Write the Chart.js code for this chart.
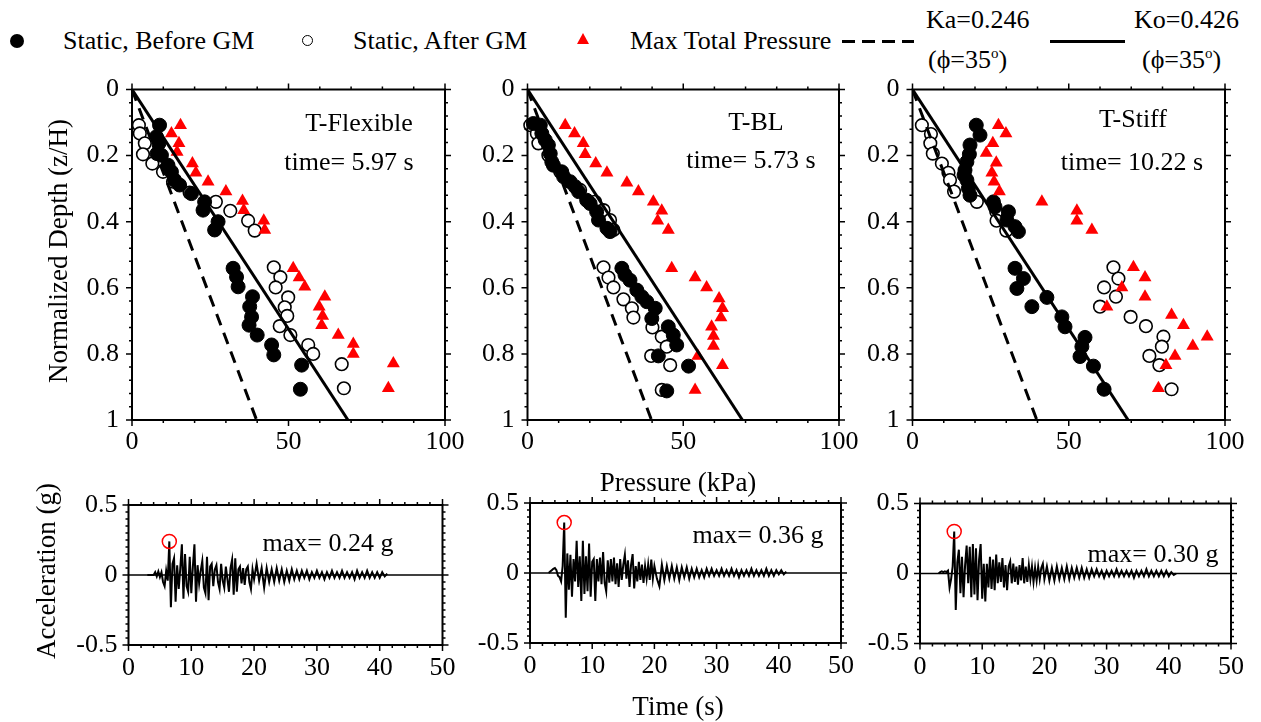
<!DOCTYPE html>
<html>
<head>
<meta charset="utf-8">
<script src="https://cdn.jsdelivr.net/npm/chart.js@4.4.1/dist/chart.umd.min.js"></script>
<style>
  body { margin: 0; width: 1261px; height: 722px; background: #fff; position: relative; overflow: hidden;
         font-family: "Liberation Serif", "Times New Roman", serif; color: #000; }
  canvas { position: absolute; left: 0; top: 0; }
  .t { position: absolute; white-space: nowrap; font-size: 26px; line-height: 1; }
  .c { transform: translate(-50%, -50%); }
  .l { transform: translateY(-50%); }
  .r { transform: translate(-50%, -50%) rotate(-90deg); }
  sup { font-size: 15px; vertical-align: 10px; line-height: 0; }
  .mk { position: absolute; }
</style>
</head>
<body>
<!-- legend -->
<div class="mk" style="left:10px;top:34px;width:14px;height:14px;border-radius:50%;background:#000"></div>
<div class="t l" style="left:63px;top:41px">Static, Before GM</div>
<div class="mk" style="left:302px;top:35px;width:9px;height:9px;border-radius:50%;border:1.6px solid #000"></div>
<div class="t l" style="left:353px;top:41px">Static, After GM</div>
<div class="mk" style="left:577px;top:33px;width:0;height:0;border-left:6.5px solid transparent;border-right:6.5px solid transparent;border-bottom:11px solid #f00"></div>
<div class="t l" style="left:630px;top:41px">Max Total Pressure</div>
<div class="mk" style="left:842px;top:40px;width:72px;height:3px;background:repeating-linear-gradient(90deg,#000 0 13px,transparent 13px 20px)"></div>
<div class="t l" style="left:926px;top:20px">Ka=0.246</div>
<div class="t l" style="left:928px;top:60px">(ϕ=35<sup>o</sup>)</div>
<div class="mk" style="left:1050px;top:40px;width:75px;height:3px;background:#000"></div>
<div class="t l" style="left:1134px;top:20px">Ko=0.426</div>
<div class="t l" style="left:1142px;top:60px">(ϕ=35<sup>o</sup>)</div>

<canvas id="p1" width="1261" height="722"></canvas>
<canvas id="p2" width="1261" height="722"></canvas>
<canvas id="p3" width="1261" height="722"></canvas>
<canvas id="a1" width="1261" height="722"></canvas>
<canvas id="a2" width="1261" height="722"></canvas>
<canvas id="a3" width="1261" height="722"></canvas>

<div class="t r" style="left:58px;top:251px;font-size:27px">Normalized Depth (z/H)</div>
<div class="t c" style="left:678px;top:482px;font-size:27px">Pressure (kPa)</div>
<div class="t r" style="left:46px;top:571px;font-size:27px">Acceleration (g)</div>
<div class="t c" style="left:678px;top:706px;font-size:27px">Time (s)</div>
<div id="notes"></div>

<script>
// panel names and captions
const panelNames = ["T-Flexible", "T-BL", "T-Stiff"];
const snapTimes = ["5.97", "5.73", "10.22"];

// Ko / Ka reference lines (pressure at z/H = 0 and 1)
const lineZ = [0, 1];
const koP = [0, 69];
const kaP = [0, 39.8];

// T-Flexible
const flexBeforeP = [8.8, 7.8, 8.6, 8.0, 9.4, 11.5, 12.6, 13.6, 15.2, 19.0, 23.2, 22.7, 27.5, 26.4, 32.3, 33.4, 33.9, 38.5, 37.6, 38.2, 37.4, 40.0, 44.6, 45.3, 54.2, 53.8];
const flexBeforeZ = [0.108, 0.143, 0.163, 0.194, 0.199, 0.229, 0.249, 0.274, 0.289, 0.315, 0.340, 0.365, 0.400, 0.425, 0.541, 0.567, 0.597, 0.627, 0.657, 0.688, 0.713, 0.743, 0.773, 0.803, 0.834, 0.907];
const flexAfterP = [2.2, 2.5, 4.1, 3.5, 6.5, 9.9, 13.1, 18.4, 26.8, 31.4, 37.1, 39.2, 45.3, 47.4, 45.9, 49.9, 48.8, 49.6, 47.2, 50.6, 56.3, 57.9, 67.0, 67.7];
const flexAfterZ = [0.108, 0.133, 0.163, 0.196, 0.224, 0.249, 0.279, 0.312, 0.340, 0.367, 0.397, 0.427, 0.538, 0.568, 0.599, 0.629, 0.659, 0.685, 0.716, 0.743, 0.773, 0.800, 0.831, 0.904];
const flexMaxP = [15.5, 12.6, 15.0, 14.4, 19.3, 20.4, 24.3, 30.0, 35.3, 35.7, 42.1, 42.4, 51.5, 53.4, 55.2, 61.6, 59.8, 60.9, 60.6, 65.9, 70.7, 70.7, 83.5, 81.9];
const flexMaxZ = [0.108, 0.133, 0.163, 0.189, 0.224, 0.252, 0.279, 0.309, 0.337, 0.365, 0.397, 0.425, 0.541, 0.569, 0.597, 0.627, 0.657, 0.685, 0.713, 0.743, 0.770, 0.800, 0.829, 0.904];

// T-BL
const blBeforeP = [1.9, 4.1, 4.6, 5.7, 6.7, 7.3, 7.8, 8.3, 11.0, 11.6, 13.7, 15.3, 16.4, 19.0, 20.1, 22.2, 22.8, 25.5, 26.5, 30.3, 31.3, 32.9, 35.1, 36.7, 38.3, 41.0, 39.9, 45.2, 46.8, 47.9, 42.0, 51.7, 44.7];
const blBeforeZ = [0.103, 0.108, 0.133, 0.153, 0.168, 0.194, 0.219, 0.229, 0.249, 0.264, 0.279, 0.294, 0.309, 0.335, 0.345, 0.370, 0.395, 0.420, 0.430, 0.541, 0.561, 0.577, 0.607, 0.627, 0.642, 0.662, 0.693, 0.718, 0.743, 0.773, 0.806, 0.837, 0.912];
const blAfterP = [0.9, 3.0, 3.5, 6.7, 10.5, 16.9, 21.7, 24.4, 26.5, 27.6, 24.4, 26.0, 27.6, 30.8, 33.5, 34.0, 40.1, 43.1, 44.7, 39.7, 45.8, 43.1];
const blAfterZ = [0.108, 0.133, 0.163, 0.199, 0.249, 0.304, 0.340, 0.365, 0.395, 0.425, 0.538, 0.569, 0.599, 0.635, 0.662, 0.690, 0.720, 0.748, 0.778, 0.806, 0.834, 0.909];
const blMaxP = [12.1, 15.1, 17.9, 18.5, 21.9, 25.5, 31.9, 35.6, 40.4, 43.1, 41.8, 45.2, 46.3, 53.8, 57.5, 61.5, 62.6, 62.1, 59.1, 59.7, 59.7, 54.7, 62.6, 53.8];
const blMaxZ = [0.108, 0.133, 0.163, 0.196, 0.224, 0.252, 0.282, 0.309, 0.340, 0.367, 0.397, 0.425, 0.541, 0.569, 0.599, 0.632, 0.662, 0.690, 0.718, 0.746, 0.776, 0.806, 0.834, 0.909];

// T-Stiff
const stiffBeforeP = [20.4, 21.6, 18.4, 18.2, 17.4, 16.8, 16.5, 17.4, 17.9, 18.4, 25.9, 26.4, 30.7, 30.2, 32.8, 33.9, 32.8, 35.5, 33.4, 43.0, 38.2, 47.8, 48.8, 55.2, 54.2, 53.6, 57.9, 61.3];
const stiffBeforeZ = [0.108, 0.138, 0.168, 0.196, 0.219, 0.244, 0.259, 0.274, 0.299, 0.320, 0.340, 0.355, 0.370, 0.395, 0.415, 0.430, 0.541, 0.572, 0.602, 0.629, 0.657, 0.688, 0.718, 0.750, 0.778, 0.808, 0.837, 0.907];
const stiffAfterP = [3.0, 5.9, 5.7, 6.5, 9.4, 11.5, 12.0, 13.3, 20.6, 26.8, 26.9, 30.0, 64.3, 65.9, 61.3, 65.1, 60.0, 69.8, 74.7, 80.3, 79.8, 75.8, 79.0, 82.9];
const stiffAfterZ = [0.108, 0.135, 0.163, 0.194, 0.224, 0.252, 0.274, 0.309, 0.340, 0.370, 0.397, 0.427, 0.538, 0.572, 0.599, 0.627, 0.657, 0.688, 0.716, 0.748, 0.778, 0.806, 0.834, 0.907];
const stiffMaxP = [27.5, 29.9, 25.7, 23.6, 26.8, 25.4, 26.1, 27.8, 41.4, 52.6, 52.6, 57.4, 70.7, 74.4, 67.0, 74.4, 62.2, 82.9, 86.7, 94.3, 89.7, 84.0, 81.1, 78.7];
const stiffMaxZ = [0.108, 0.133, 0.163, 0.192, 0.222, 0.252, 0.279, 0.309, 0.340, 0.367, 0.397, 0.425, 0.538, 0.569, 0.599, 0.627, 0.657, 0.682, 0.713, 0.748, 0.776, 0.806, 0.834, 0.904];

// acceleration records (s, g)
const timeS = [
  3.00, 3.25, 3.50, 3.75, 4.00, 4.25, 4.50, 4.75, 5.00, 5.25, 5.50, 5.75, 6.00, 6.25, 6.50, 6.75, 7.00, 7.25, 7.50, 7.75,
  8.00, 8.25, 8.50, 8.75, 9.00, 9.25, 9.50, 9.75, 10.00, 10.25, 10.50, 10.75, 11.00, 11.25, 11.50, 11.75, 12.00, 12.25, 12.50, 12.75,
  13.00, 13.25, 13.50, 13.75, 14.00, 14.25, 14.50, 14.75, 15.00, 15.25, 15.50, 15.75, 16.00, 16.25, 16.50, 16.75, 17.00, 17.25, 17.50, 17.75,
  18.00, 18.25, 18.50, 18.75, 19.00, 19.25, 19.50, 19.75, 20.00,
  20.4, 20.8, 21.2, 21.6, 22.0, 22.4, 22.8, 23.2, 23.6, 24.0, 24.4, 24.8, 25.2, 25.6, 26.0, 26.4, 26.8, 27.2, 27.6, 28.0,
  28.4, 28.8, 29.2, 29.6, 30.0, 30.4, 30.8, 31.2, 31.6, 32.0, 32.4, 32.8, 33.2, 33.6, 34.0, 34.4, 34.8, 35.2, 35.6, 36.0,
  36.4, 36.8, 37.2, 37.6, 38.0, 38.4, 38.8, 39.2, 39.6, 40.0, 40.4, 40.8, 41.2];
const accFlex = [
  0, 0, 0, 0, 0, 0.02, -0.01, 0.025, -0.015, 0.02, -0.05, -0.08, 0.03, -0.04, 0.24, -0.23, 0.08, 0.12, -0.19, 0.07,
  -0.1, 0.05, 0.22, -0.17, 0.15, -0.08, -0.12, 0.13, -0.13, 0.06, 0.22, -0.19, 0.07, -0.06, 0.03, 0.1, -0.09, -0.13, 0.13, -0.18,
  0.06, 0.08, -0.08, 0.04, 0.07, -0.05, -0.1, 0.08, -0.04, -0.09, 0.06, -0.03, -0.12, 0.05, 0.11, -0.14, 0.12, -0.12, 0.04, 0.06,
  -0.06, 0.05, -0.07, 0.04, 0.06, -0.05, -0.1, 0.04, -0.03,
  0.08, -0.04, 0.05, -0.09, 0.05, -0.05, 0.04, -0.05, 0.05, -0.04, 0.04, -0.05, 0.03, -0.04, 0.04, -0.03, 0.03, -0.03, 0.03, -0.02,
  0.03, -0.03, 0.02, -0.02, 0.03, -0.02, 0.02, -0.03, 0.02, -0.02, 0.03, -0.02, 0.02, -0.02, 0.03, -0.02, 0.02, -0.02, 0.02, -0.03,
  0.03, -0.02, 0.02, -0.02, 0.03, -0.02, 0.02, -0.02, 0.02, -0.02, 0.02, -0.01, 0.01];
const accBL = [
  0, 0.01, 0.02, 0.03, 0.035, 0.02, -0.02, -0.03, -0.06, 0.05, 0.36, -0.32, 0.14, -0.12, 0.13, -0.17, 0.1, -0.06, 0.23, -0.1,
  0.12, -0.2, 0.23, -0.15, 0.12, -0.13, 0.21, -0.17, 0.08, 0.1, -0.2, 0.1, -0.06, 0.11, -0.08, 0.15, -0.07, -0.13, 0.09, -0.07,
  0.1, -0.06, 0.11, -0.08, 0.07, -0.1, 0.1, -0.05, 0.06, 0.13, -0.04, 0.09, -0.1, 0.06, 0.135, -0.11, 0.05, -0.06, 0.08, -0.05,
  0.06, -0.07, 0.05, -0.04, 0.06, -0.05, 0.095, -0.04, 0.05,
  -0.04, -0.095, 0.06, -0.05, 0.05, -0.04, 0.05, -0.04, 0.04, -0.05, 0.04, -0.03, 0.04, -0.04, 0.03, -0.03, 0.03, -0.03, 0.02, -0.03,
  0.03, -0.02, 0.03, -0.02, 0.02, -0.02, 0.03, -0.02, 0.02, -0.02, 0.03, -0.02, 0.02, -0.03, 0.02, -0.02, 0.02, -0.02, 0.03, -0.02,
  0.02, -0.02, 0.02, -0.02, 0.03, -0.02, 0.02, -0.02, 0.02, -0.01, 0.02, -0.01, 0.01];
const accStiff = [
  0, 0.01, 0.015, 0.01, 0.015, 0.01, 0.02, -0.1, -0.04, 0.05, 0.30, -0.26, 0.08, 0.17, -0.14, 0.12, -0.17, 0.06, 0.2, -0.07,
  0.19, -0.17, 0.21, -0.15, 0.18, -0.19, 0.1, 0.21, -0.18, 0.07, -0.2, 0.07, -0.1, 0.12, -0.11, 0.1, -0.12, 0.135, -0.07, 0.08,
  -0.06, 0.11, -0.1, 0.06, -0.12, 0.05, 0.085, -0.07, 0.07, -0.06, 0.05, -0.08, 0.06, -0.05, 0.11, -0.07, 0.05, -0.06, 0.06, -0.04,
  0.05, -0.06, 0.04, -0.05, 0.05, -0.04, 0.04, 0.07, -0.04,
  0.05, -0.05, 0.04, -0.05, 0.05, -0.04, 0.04, -0.04, 0.05, -0.04, 0.04, -0.03, 0.04, -0.03, 0.04, -0.03, 0.03, -0.03, 0.03, -0.02,
  0.03, -0.02, 0.02, -0.03, 0.02, -0.02, 0.02, -0.02, 0.03, -0.02, 0.02, -0.02, 0.02, -0.02, 0.02, -0.03, 0.02, -0.02, 0.02, -0.02,
  0.03, -0.02, 0.02, -0.02, 0.02, -0.02, 0.02, -0.02, 0.02, -0.02, 0.01, -0.01, 0];
const peakTime = [6.5, 5.5, 5.5];
const peakAcc = [0.24, 0.36, 0.30];

const pts = (xs, ys) => xs.map((v, i) => ({ x: v, y: ys[i] }));
const FONT = { family: "'Liberation Serif', 'Times New Roman', serif", size: 26 };

// box frame with outward major / minor ticks on all four sides
const frameTicks = {
  id: "frameTicks",
  afterDraw(chart, args, o) {
    const { ctx, chartArea: a } = chart;
    const sx = chart.scales.x, sy = chart.scales.y;
    ctx.save();
    ctx.strokeStyle = "#000";
    ctx.lineWidth = 1.5;
    ctx.beginPath();
    const nx = Math.round((sx.max - sx.min) / o.xMinor);
    for (let i = 0; i <= nx; i++) {
      const px = sx.getPixelForValue(sx.min + i * o.xMinor);
      const len = i % o.xEvery === 0 ? 6 : 3;
      ctx.moveTo(px, a.top); ctx.lineTo(px, a.top - len);
      ctx.moveTo(px, a.bottom); ctx.lineTo(px, a.bottom + len);
    }
    const ny = Math.round((sy.max - sy.min) / o.yMinor);
    for (let i = 0; i <= ny; i++) {
      const py = sy.getPixelForValue(sy.min + i * o.yMinor);
      const len = i % o.yEvery === 0 ? 6 : 3;
      ctx.moveTo(a.left, py); ctx.lineTo(a.left - len, py);
      ctx.moveTo(a.right, py); ctx.lineTo(a.right + len, py);
    }
    ctx.stroke();
    ctx.lineWidth = 2;
    ctx.strokeRect(a.left, a.top, a.right - a.left, a.bottom - a.top);
    ctx.restore();
  }
};

function axis(min, max, step, pad, fit, reverse) {
  return {
    type: "linear", min, max, reverse: !!reverse,
    grid: { display: false, drawTicks: false },
    border: { display: false },
    ticks: { stepSize: step, padding: pad, color: "#000", font: FONT,
             callback: v => String(Number(v.toFixed(2))) },
    afterFit: fit
  };
}

function baseOptions(box, xAx, yAx, ticksOpt) {
  return {
    responsive: false, animation: false, devicePixelRatio: 1,
    layout: { padding: { left: box.l - 60, top: box.t, right: 1261 - box.r, bottom: 722 - box.b - 40 } },
    plugins: { legend: { display: false }, tooltip: { enabled: false }, frameTicks: ticksOpt },
    scales: { x: xAx, y: yAx }
  };
}

const fitW = s => { s.width = 60; };
const fitH = s => { s.height = 40; };

function depthChart(id, box, before, after, maxp) {
  new Chart(document.getElementById(id), {
    type: "scatter",
    data: {
      datasets: [
        { data: pts(koP, lineZ), showLine: true, borderColor: "#000", borderWidth: 3, pointRadius: 0, order: 1 },
        { data: pts(kaP, lineZ), showLine: true, borderColor: "#000", borderWidth: 3, borderDash: [12, 8], pointRadius: 0, order: 1 },
        { data: maxp, pointStyle: "triangle", pointRadius: 7.5, backgroundColor: "#ff0000", borderColor: "#ff0000", borderWidth: 0, clip: false, order: 2 },
        { data: before, pointStyle: "circle", pointRadius: 7, backgroundColor: "#000", borderColor: "#000", borderWidth: 1, clip: false, order: 3 },
        { data: after, pointStyle: "circle", pointRadius: 6.3, backgroundColor: "#fff", borderColor: "#000", borderWidth: 1.6, clip: false, order: 4 }
      ]
    },
    options: baseOptions(box,
      axis(0, 100, 50, 7, fitH),
      axis(0, 1, 0.2, 13, fitW, true),
      { xMinor: 10, xEvery: 5, yMinor: 0.04, yEvery: 5 }),
    plugins: [frameTicks]
  });
}

function accChart(id, box, acc, k) {
  new Chart(document.getElementById(id), {
    type: "scatter",
    data: {
      datasets: [
        { data: [{ x: peakTime[k], y: peakAcc[k] }], pointStyle: "circle", pointRadius: 7, backgroundColor: "rgba(0,0,0,0)", borderColor: "#ff0000", borderWidth: 1.5, clip: false, order: 1 },
        { data: pts(timeS, acc), showLine: true, borderColor: "#000", borderWidth: 2, pointRadius: 0, order: 2 },
        { data: [{ x: 0, y: 0 }, { x: 50, y: 0 }], showLine: true, borderColor: "#000", borderWidth: 1.5, pointRadius: 0, order: 3 }
      ]
    },
    options: baseOptions(box,
      axis(0, 50, 10, 8, fitH),
      axis(-0.5, 0.5, 0.5, 11, fitW),
      { xMinor: 2, xEvery: 5, yMinor: 0.05, yEvery: 10 }),
    plugins: [frameTicks]
  });
}

depthChart("p1", { l: 132, r: 445, t: 89.5, b: 420 }, pts(flexBeforeP, flexBeforeZ), pts(flexAfterP, flexAfterZ), pts(flexMaxP, flexMaxZ));
depthChart("p2", { l: 527.5, r: 839, t: 89.5, b: 420 }, pts(blBeforeP, blBeforeZ), pts(blAfterP, blAfterZ), pts(blMaxP, blMaxZ));
depthChart("p3", { l: 912.5, r: 1225, t: 89.5, b: 420 }, pts(stiffBeforeP, stiffBeforeZ), pts(stiffAfterP, stiffAfterZ), pts(stiffMaxP, stiffMaxZ));
accChart("a1", { l: 128.5, r: 442.5, t: 505, b: 645 }, accFlex, 0);
accChart("a2", { l: 530, r: 841, t: 503, b: 643 }, accBL, 1);
accChart("a3", { l: 920, r: 1231, t: 503.5, b: 643.5 }, accStiff, 2);

// panel captions
const notePos = [
  { name: [359, 123], time: [349, 162], max: [328, 543] },
  { name: [756, 122], time: [751, 160], max: [758, 535] },
  { name: [1133, 119], time: [1132, 162], max: [1153, 554] }
];
const notes = document.getElementById("notes");
notePos.forEach((p, k) => {
  const items = [
    [panelNames[k], p.name],
    ["time= " + snapTimes[k] + " s", p.time],
    ["max= " + peakAcc[k].toFixed(2) + " g", p.max]
  ];
  items.forEach(([txt, xy]) => {
    const d = document.createElement("div");
    d.className = "t c";
    d.style.left = xy[0] + "px";
    d.style.top = xy[1] + "px";
    d.textContent = txt;
    notes.appendChild(d);
  });
});
</script>
</body>
</html>
